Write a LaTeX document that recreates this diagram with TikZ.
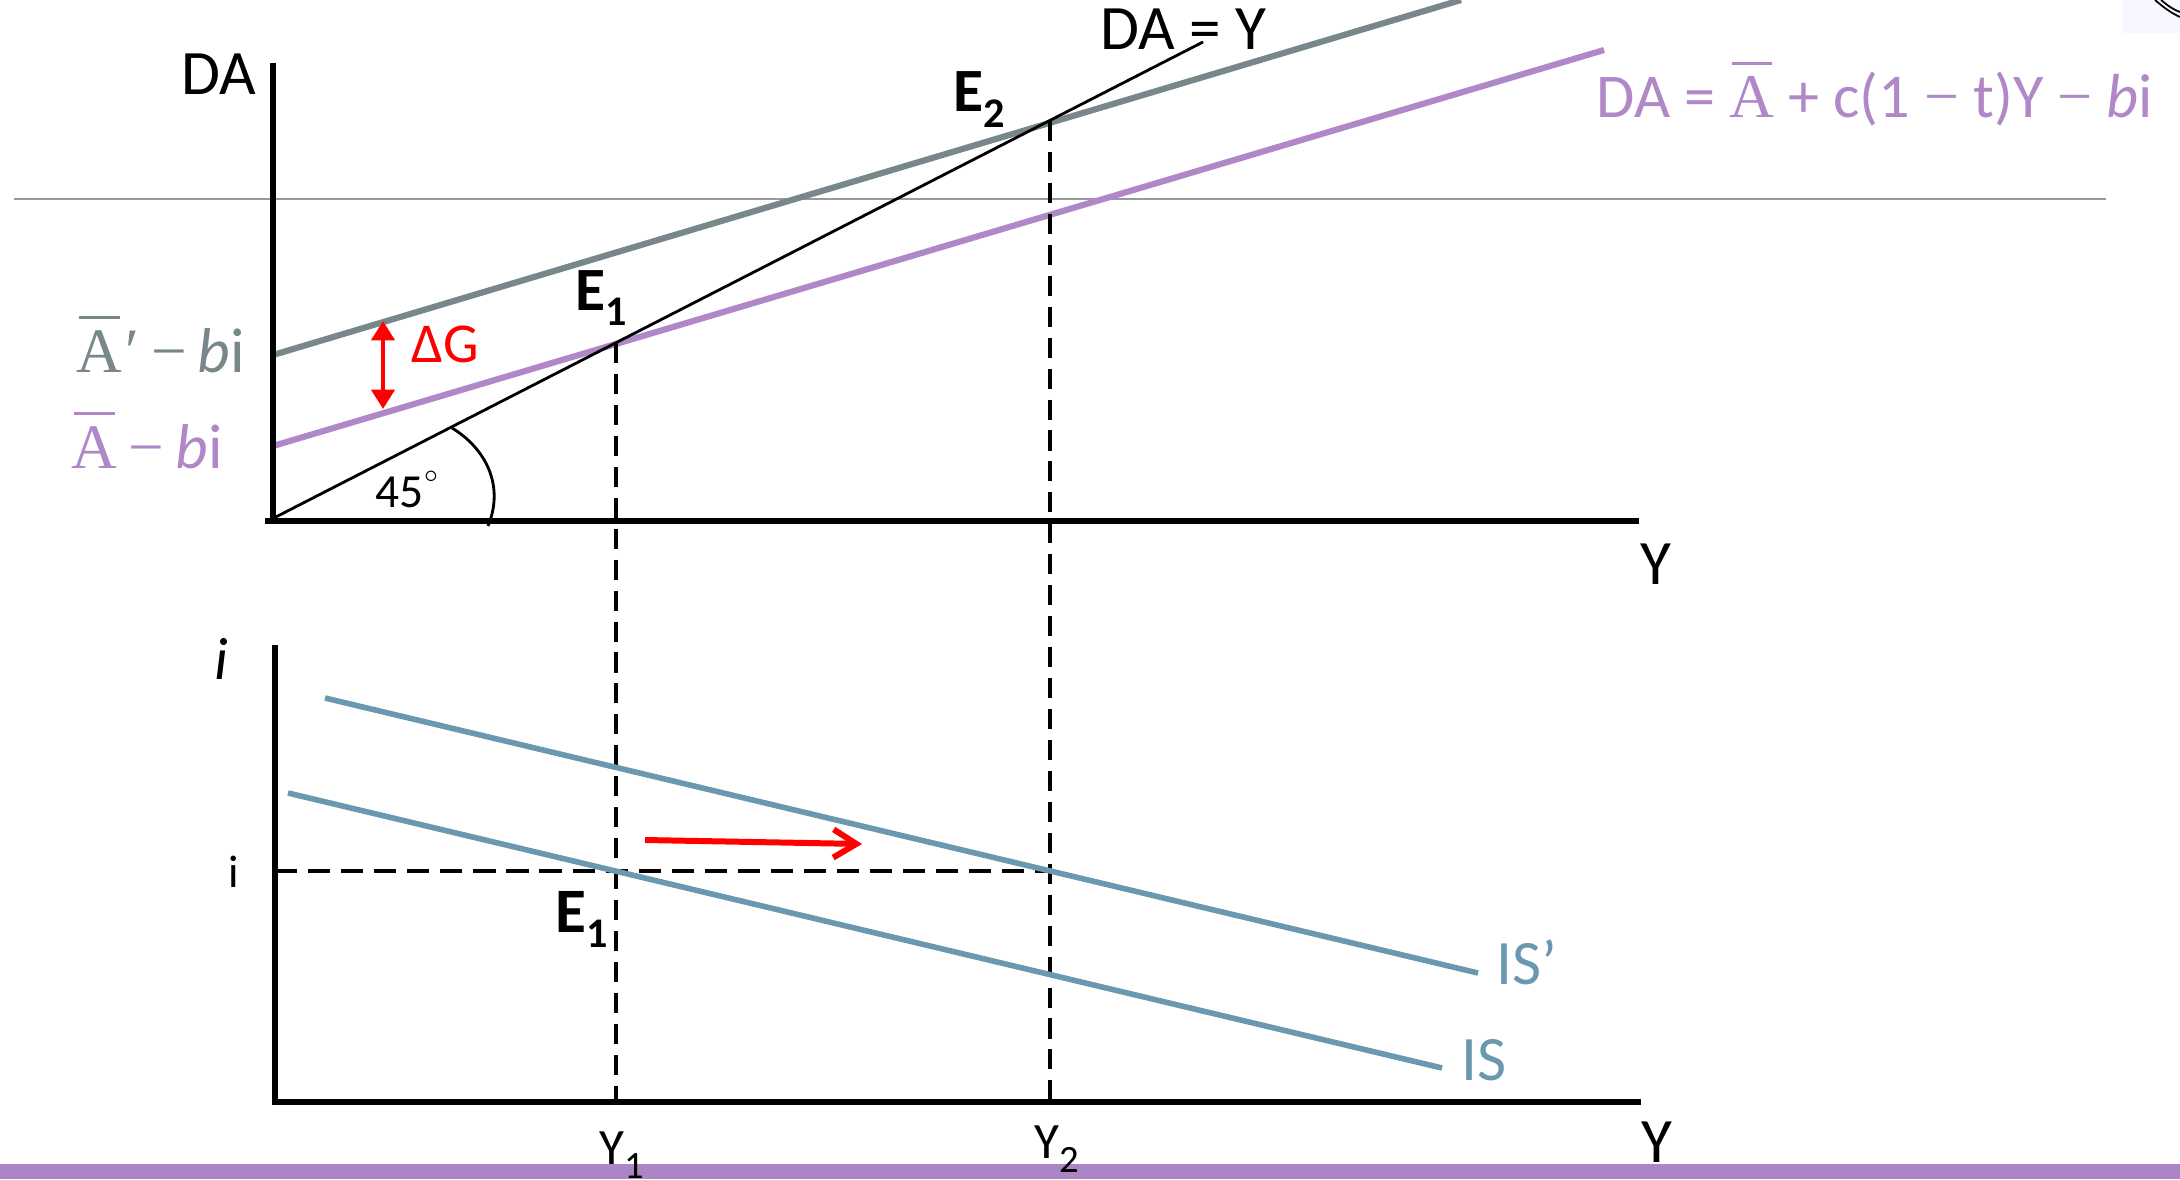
\documentclass[tikz,border=0pt]{standalone}
\usepackage{fontspec}
\setmainfont{Carlito}
\newfontfamily\serifA{Liberation Serif}
\usetikzlibrary{arrows.meta}
\definecolor{dagray}{HTML}{78878A}
\definecolor{dapurple}{HTML}{B088C8}
\definecolor{isblue}{HTML}{6A98B0}
\definecolor{barpurple}{HTML}{AB85C4}
\definecolor{guidegray}{HTML}{9A9A9A}
\newsavebox{\mybox}
\newcommand{\barA}{\sbox{\mybox}{\serifA A}\rlap{\hspace*{0.06\wd\mybox}\rule[15pt]{0.88\wd\mybox}{0.9pt}}\usebox{\mybox}}
\newcommand{\mi}{{\serifA −}}
\newcommand{\sm}{\hspace{3.2pt}}
\newcommand{\Esub}[1]{\textbf{E}\raisebox{-4.5pt}{\fontsize{12}{12}\selectfont\textbf{#1}}}
\newcommand{\Ysub}[1]{Y\raisebox{-4pt}{\fontsize{11}{11}\selectfont #1}}
\begin{document}
\begin{tikzpicture}[x=0.01cm,y=-0.01cm,
  lab/.style={inner sep=0pt, anchor=base west, font=\fontsize{18}{20}\selectfont},
  axis/.style={line width=1.7pt, line cap=rect},
  dacurve/.style={line width=1.75pt},
  iscurve/.style={isblue, line width=1.6pt},
  guide/.style={line width=0.9pt, dash pattern=on 5.7pt off 3.1pt},
  hguide/.style={line width=1.25pt, dash pattern=on 6.3pt off 3.1pt}]
\useasboundingbox (0,0) rectangle (2180,1179);
% key points
\coordinate (O) at (268,521);
\coordinate (DAtop) at (273,66);
\coordinate (DAbot) at (273,521);
\coordinate (Yend) at (1636,521);
\coordinate (E1) at (616,343);
\coordinate (E2) at (1050,121);
\coordinate (DAYend) at (1203,42);
\coordinate (G0) at (273,355);
\coordinate (G1) at (1461,0);
\coordinate (P0) at (273,446);
\coordinate (P1) at (1604,50);
\coordinate (O2) at (275,1102);
\coordinate (itop) at (275,648);
\coordinate (Y2end) at (1638,1102);
\coordinate (Y1b) at (616,1102);
\coordinate (Y2b) at (1050,1102);
\coordinate (iL) at (275,871);
\coordinate (iR) at (1050,871);
\coordinate (ISpA) at (325,698);
\coordinate (ISpB) at (1478,973);
\coordinate (ISA) at (288,793);
\coordinate (ISB) at (1442,1068);
\coordinate (RA) at (645,840);
\coordinate (RB) at (862,844);
\coordinate (GA) at (383,321);
\coordinate (GB) at (383,409);
\coordinate (HL) at (14,199);
\coordinate (HR) at (2106,199);
% background elements
\fill[barpurple] (0,1164) rectangle (2180,1179);
\fill[blue!3] (2123,0) rectangle (2180,33);
\draw[line width=0.5pt] (2155,0) .. controls (2163,7) and (2171,13) .. (2180,17);
\draw[line width=0.5pt] (2161,0) .. controls (2168,6) and (2174,10) .. (2180,12);
\draw[guidegray, line width=0.45pt] (HL) -- (HR);
% upper panel
\draw[dagray, dacurve] (G0) -- (G1);
\draw[dapurple, dacurve] (P0) -- (P1);
\draw[line width=0.8pt] (O) -- (DAYend);
\draw[line width=0.8pt] (452,428) .. controls (485,448) and (505,485) .. (488,526);
\draw[guide] (E1) -- (Y1b);
\draw[guide] (E2) -- (Y2b);
\draw[axis] (DAtop) -- (DAbot);
\draw[axis] (O) -- (Yend);
\draw[red, line width=1.3pt, {Triangle[length=5.5pt,width=6.5pt]}-{Triangle[length=5.5pt,width=6.5pt]}] (GA) -- (GB);
% lower panel
\draw[hguide] (iL) -- (iR);
\draw[iscurve] (ISpA) -- (ISpB);
\draw[iscurve] (ISA) -- (ISB);
\draw[red, line width=1.7pt, -{Straight Barb[length=6.5pt,width=8pt]}] (RA) -- (RB);
\draw[axis] (itop) -- (O2);
\draw[axis] (O2) -- (Y2end);
% labels
\node[lab] (tDA) at (181,95) {DA};
\node[lab, anchor=base] (tY) at (1656,584) {Y};
\node[lab] (tDAY) at (1100,50) {DA = Y};
\node[lab, dapurple, font=\fontsize{17.7}{20}\selectfont] (tform) at (1596,118) {DA = \barA{} + c(1 \mi{} t)Y \mi{} \textit{b}i};
\node[lab, dagray] (tAp) at (76,372) {\barA\kern1pt{\serifA ′}\sm\mi\sm\textit{b}i};
\node[lab, dapurple] (tA) at (71,468) {\barA\sm\mi\sm\textit{b}i};
\node[lab, red, font=\fontsize{16}{18}\selectfont] (tdG) at (411,362) {ΔG};
\node[lab, font=\fontsize{17.5}{20}\selectfont] (tE1) at (575,310) {\Esub{1}};
\node[lab, font=\fontsize{17.5}{20}\selectfont] (tE2) at (953,112) {\Esub{2}};
\node[lab, font=\fontsize{13.5}{15}\selectfont] (t45) at (375,507) {45\raisebox{7pt}{\fontsize{7}{7}\selectfont$\circ$}};
\node[lab, font=\fontsize{17}{19}\selectfont] (tii) at (214,679) {\textit{i}};
\node[lab, font=\fontsize{13}{15}\selectfont] (ti) at (228,887) {i};
\node[lab, font=\fontsize{18}{20}\selectfont] (tE1b) at (555,932) {\Esub{1}};
\node[lab, isblue] (tISp) at (1496,984) {IS’};
\node[lab, isblue] (tIS) at (1461,1080) {IS};
\node[lab, font=\fontsize{14.5}{16}\selectfont] (tY1) at (599,1164) {\Ysub{1}};
\node[lab, font=\fontsize{14.5}{16}\selectfont] (tY2) at (1034,1158) {\Ysub{2}};
\node[lab] (tYb) at (1641,1162) {Y};
\end{tikzpicture}
\end{document}
